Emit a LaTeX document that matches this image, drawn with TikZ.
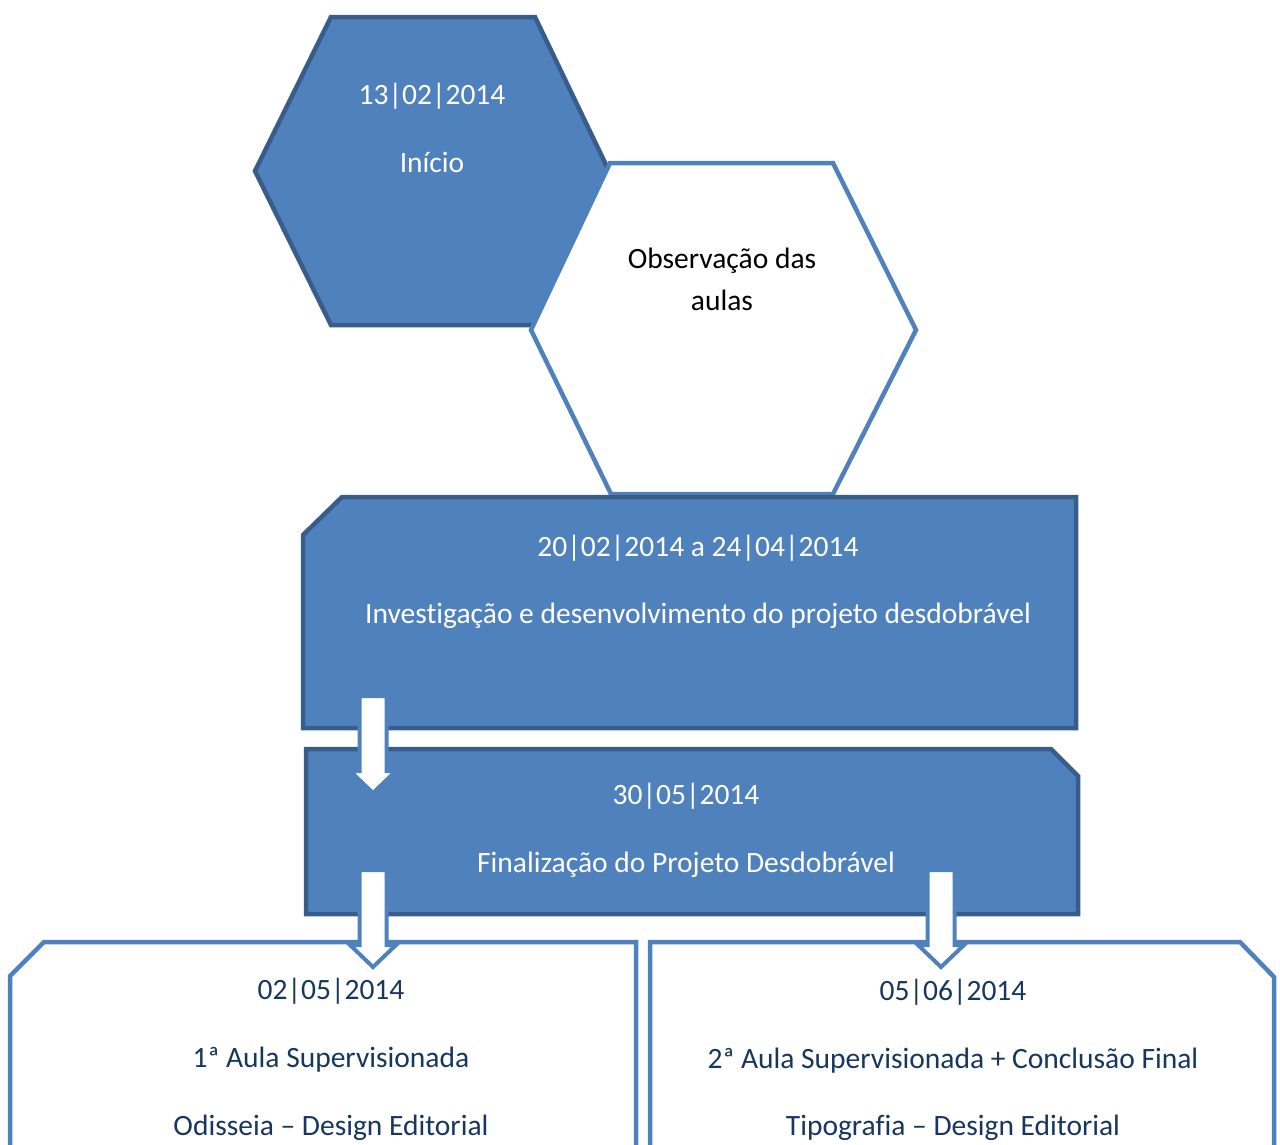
\documentclass[tikz,border=0pt]{standalone}
\usepackage{fontspec}
\setmainfont[Ligatures=NoCommon]{Carlito}
\definecolor{accent}{HTML}{4F81BD}
\definecolor{accentdark}{HTML}{385D8A}
\definecolor{navy}{HTML}{17375E}
\tikzset{
  darkshape/.style={fill=accent, draw=accentdark, line width=4.5pt, line join=miter},
  lightshape/.style={fill=white, draw=accent, line width=4.5pt, line join=miter},
  blockarrow/.style={fill=white, draw=accent, line width=4pt, line join=miter},
  lbl/.style={anchor=base, inner sep=0pt, font=\fontsize{29.5}{35}\selectfont},
  wlbl/.style={lbl, text=white},
  blbl/.style={lbl, text=black},
  nlbl/.style={lbl, text=navy},
}
\newcommand{\drawblockarrow}[1]{%
  \draw[blockarrow] (#1) ++(-13.5,0) -- ++(27,0) -- ++(0,75) -- ++(9.5,0)
    -- ++(-23,22) -- ++(-23,-22) -- ++(9.5,0) -- cycle;}
\begin{document}
\begin{tikzpicture}[x=1pt,y=-1pt]
\useasboundingbox (0,0) rectangle (1280,1144);
\clip (0,0) rectangle (1280,1144);
% hexagon 1 (Início)
\draw[darkshape] (331,17) -- (535,17) -- (609,171) -- (535,325) -- (331,325) -- (255,171) -- cycle;
% hexagon 2 (Observação)
\draw[lightshape] (610,163) -- (833,163) -- (916,330) -- (833,494) -- (611,494) -- (531,330) -- cycle;
% box 3
\draw[darkshape] (342,497) -- (1076,497) -- (1076,728) -- (303,728) -- (303,535) -- cycle;
% box 4
\draw[darkshape] (306,749) -- (1051,749) -- (1078,776) -- (1078,914) -- (306,914) -- cycle;
% bottom boxes
\draw[lightshape] (44,942) -- (636,942) -- (636,1160) -- (10,1160) -- (10,976) -- cycle;
\draw[lightshape] (650,942) -- (1240,942) -- (1274,977) -- (1274,1160) -- (650,1160) -- cycle;
% block arrows
\coordinate (a1) at (373,696);
\coordinate (a2) at (373,870);
\coordinate (a3) at (941,870);
\drawblockarrow{a1}
\drawblockarrow{a2}
\drawblockarrow{a3}
% labels
\node[wlbl] (t1a) at (432,104) {13|02|2014};
\node[wlbl] (t1b) at (432,172) {Início};
\node[blbl] (t2a) at (722,268) {Observação das};
\node[blbl] (t2b) at (722,310) {aulas};
\node[wlbl] (t3a) at (698,556) {20|02|2014 a 24|04|2014};
\node[wlbl] (t3b) at (698,623) {Investigação e desenvolvimento do projeto desdobrável};
\node[wlbl] (t4a) at (686,804) {30|05|2014};
\node[wlbl] (t4b) at (686,872) {Finalização do Projeto Desdobrável};
\node[nlbl] (t5a) at (331,999) {02|05|2014};
\node[nlbl] (t5b) at (331,1067) {1ª Aula Supervisionada};
\node[nlbl] (t5c) at (331,1135) {Odisseia – Design Editorial};
\node[nlbl] (t6a) at (953,1000) {05|06|2014};
\node[nlbl] (t6b) at (953,1068) {2ª Aula Supervisionada + Conclusão Final};
\node[nlbl] (t6c) at (953,1135) {Tipografia – Design Editorial};
\end{tikzpicture}
\end{document}
